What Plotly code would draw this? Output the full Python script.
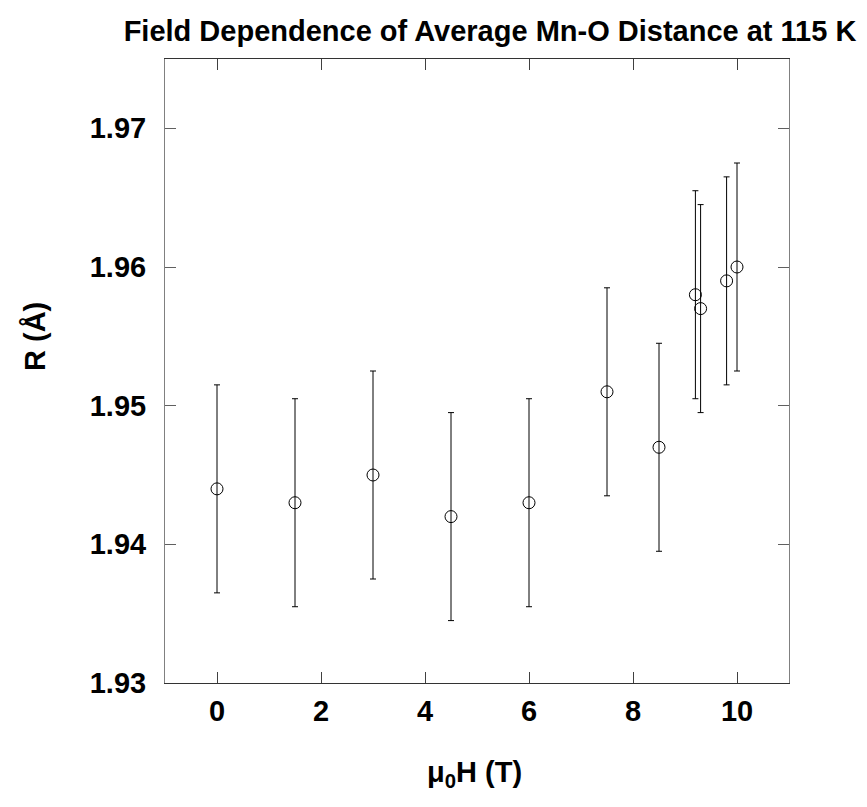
import plotly.graph_objects as go

field_T = [0, 1.5, 3, 4.5, 6, 7.5, 8.5, 9.2, 9.3, 9.8, 10]
r_ang = [1.944, 1.943, 1.945, 1.942, 1.943, 1.951, 1.947, 1.958, 1.957, 1.959, 1.960]
r_err = [0.0075] * 11
y_ticks = [1.93, 1.94, 1.95, 1.96, 1.97]
x_ticks = [0, 2, 4, 6, 8, 10]

FONT = "Liberation Sans, Arial, sans-serif"
W, H = 859, 799  # page body has an 8px margin
L, R, T, B = 157, 78, 51, 124

fig = go.Figure()
fig.add_trace(go.Scatter(
    x=field_T, y=r_ang, mode="markers",
    marker=dict(symbol="circle-open", size=12, color="black", line=dict(width=1, color="black")),
    error_y=dict(type="data", array=r_err, visible=True, color="black", thickness=1, width=3),
    showlegend=False,
))

fig.update_layout(
    width=W, height=H,
    paper_bgcolor="white", plot_bgcolor="white",
    margin=dict(l=L, r=R, t=T, b=B),
    font=dict(family=FONT, color="black"),
    title=dict(text="Field Dependence of Average Mn-O Distance at 115 K",
               x=482 / W, xanchor="center", y=1 - 23 / H, yanchor="middle",
               font=dict(size=29, family=FONT, weight="bold", color="black")),
)
pw = W - L - R
ph = H - T - B
fig.add_annotation(
    text="R (Å)", textangle=-90, showarrow=False,
    xref="paper", yref="paper",
    x=(27 - L) / pw, y=(H - B - (337 - 8)) / ph, xanchor="center", yanchor="middle",
    font=dict(size=29, family=FONT, weight="bold", color="black"),
)
fig.add_annotation(
    text="μ<sub>0</sub>H (T)", showarrow=False,
    xref="paper", yref="paper",
    x=(466 - L) / pw, y=-(774 - 8 - (H - B)) / ph, xanchor="center", yanchor="middle",
    font=dict(size=29, family=FONT, weight="bold", color="black"),
)
fig.update_xaxes(
    range=[-1, 11], tickvals=x_ticks, ticktext=[str(v) for v in x_ticks],
    showgrid=False, zeroline=False,
    showline=True, linecolor="#333333", linewidth=1, mirror="ticks",
    ticks="inside", ticklen=11, tickcolor="#404040", tickwidth=1,
    tickfont=dict(size=29, family=FONT, weight="bold", color="black"),
    ticklabelstandoff=2,
    automargin=False,
)
fig.update_yaxes(
    range=[1.93, 1.975], tickvals=y_ticks, ticktext=[f"{v:.2f}" for v in y_ticks],
    showgrid=False, zeroline=False,
    showline=True, linecolor="#808080", linewidth=1, mirror="ticks",
    ticks="inside", ticklen=11, tickcolor="#606060", tickwidth=1,
    tickfont=dict(size=29, family=FONT, weight="bold", color="black"),
    ticklabelstandoff=12,
    automargin=False,
)

fig.write_html("out.html")
